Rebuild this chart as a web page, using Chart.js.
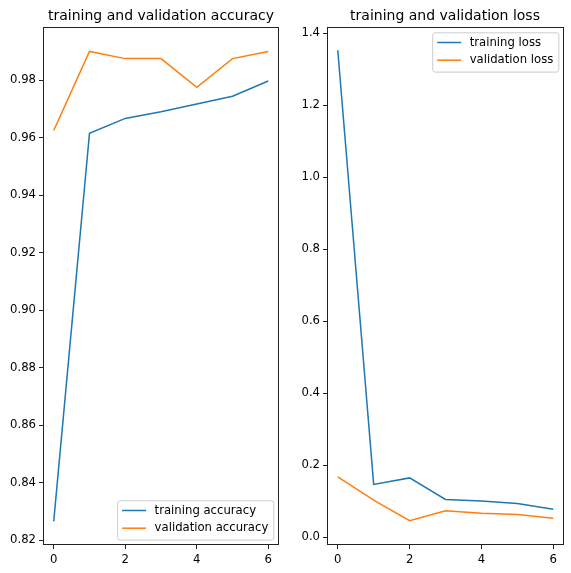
<!DOCTYPE html>
<html>
<head>
<meta charset="utf-8">
<script src="https://cdn.jsdelivr.net/npm/chart.js@4/dist/chart.umd.min.js"></script>
<style>
  html, body { margin: 0; padding: 0; background: #fff; overflow: hidden; width: 571px; height: 573px; }
  canvas { position: absolute; top: 0; }
  #accChart { left: 0; }
  #lossChart { left: 296px; }
</style>
</head>
<body>
<canvas id="accChart" width="322" height="573"></canvas>
<canvas id="lossChart" width="298" height="573"></canvas>
<script>
// Data
const epochs = [0, 1, 2, 3, 4, 5, 6];
const trainAcc = [0.8265, 0.9615, 0.9667, 0.9690, 0.9717, 0.9744, 0.9797];
const valAcc = [0.9625, 0.9900, 0.9875, 0.9875, 0.9775, 0.9875, 0.9900];
const trainLoss = [1.353, 0.147, 0.165, 0.105, 0.101, 0.094, 0.078];
const valLoss = [0.168, 0.103, 0.046, 0.074, 0.067, 0.063, 0.053];
const xTicks = [0, 2, 4, 6];
const accTicks = [0.82, 0.84, 0.86, 0.88, 0.90, 0.92, 0.94, 0.96, 0.98];
const lossTicks = [0.0, 0.2, 0.4, 0.6, 0.8, 1.0, 1.2, 1.4];

const BLUE = '#1f77b4';
const ORANGE = '#ff7f0e';
const FONT = '"DejaVu Sans", sans-serif';
const SMALL = 11.67;

const pts = (ys) => epochs.map((e, i) => ({ x: e, y: ys[i] }));

// Axes frame (all four spines)
const frame = {
  id: 'frame',
  afterDatasetsDraw(chart) {
    const a = chart.chartArea, ctx = chart.ctx;
    ctx.save();
    ctx.strokeStyle = '#222';
    ctx.lineWidth = 1;
    ctx.strokeRect(Math.round(a.left) + 0.5, Math.round(a.top) + 0.5,
      Math.round(a.right - a.left) - 1, Math.round(a.bottom - a.top) - 1);
    ctx.restore();
  }
};

// Legend drawn inside the axes, matplotlib style
const boxLegend = {
  id: 'boxLegend',
  afterDraw(chart, args, opts) {
    const ctx = chart.ctx, a = chart.chartArea;
    const sets = chart.data.datasets;
    ctx.save();
    ctx.font = SMALL + 'px ' + FONT;
    const tw = Math.max(...sets.map(d => ctx.measureText(d.label).width));
    const w = 5 + 24 + 8.5 + tw + 5;
    const rowH = 17.7;
    const h = 10 + rowH * (sets.length - 1) + 11.6;
    const left = a.right - 5.7 - w;
    const top = opts.corner === 'lr' ? a.bottom - 5.4 - h : a.top + 5.3;
    ctx.beginPath();
    ctx.roundRect(left + 0.5, top + 0.5, w, h, 2.5);
    ctx.fillStyle = 'rgba(255,255,255,0.8)';
    ctx.fill();
    ctx.strokeStyle = '#cccccc';
    ctx.lineWidth = 1;
    ctx.stroke();
    sets.forEach((d, i) => {
      const y = top + 10.2 + i * rowH;
      ctx.beginPath();
      ctx.moveTo(left + 5, y);
      ctx.lineTo(left + 29, y);
      ctx.strokeStyle = d.borderColor;
      ctx.lineWidth = 1.5;
      ctx.stroke();
      ctx.fillStyle = '#000';
      ctx.textBaseline = 'middle';
      ctx.fillText(d.label, left + 37.5, y);
    });
    ctx.restore();
  }
};

function makeChart(id, title, sets, yMin, yMax, yTicks, yDigits, yWidth, padRight, corner) {
  return new Chart(document.getElementById(id), {
    type: 'line',
    data: {
      datasets: sets.map(s => ({
        label: s.label,
        data: pts(s.values),
        borderColor: s.color,
        backgroundColor: s.color,
        borderWidth: 1.5,
        pointRadius: 0,
        tension: 0,
        fill: false
      }))
    },
    options: {
      responsive: false,
      animation: false,
      layout: { padding: 0 },
      plugins: {
        legend: { display: false },
        tooltip: { enabled: false },
        title: {
          display: true,
          text: title,
          color: '#000',
          font: { family: FONT, size: 14, weight: 'normal', lineHeight: 1.2 },
          padding: { top: 7.5, bottom: 2.7 }
        },
        boxLegend: { corner }
      },
      scales: {
        x: {
          type: 'linear',
          min: -0.3,
          max: 6.3,
          afterBuildTicks: (s) => { s.ticks = xTicks.map(v => ({ value: v })); },
          afterFit: (s) => { s.height = 28; },
          grid: { display: true, drawOnChartArea: false, tickLength: 4, color: '#222' },
          border: { display: false },
          ticks: { color: '#000', padding: 3.5, maxRotation: 0, font: { family: FONT, size: SMALL },
            callback: (v) => String(v) }
        },
        y: {
          min: yMin,
          max: yMax,
          afterBuildTicks: (s) => { s.ticks = yTicks.map(v => ({ value: v })); },
          afterFit: (s) => { s.width = yWidth; },
          grid: { display: true, drawOnChartArea: false, tickLength: 4, color: '#222' },
          border: { display: false },
          ticks: { color: '#000', padding: 3, font: { family: FONT, size: SMALL },
            callback: (v) => Number(v).toFixed(yDigits) }
        },
        // empty right axis: keeps the plot centred under the title
        yPad: {
          position: 'right',
          display: true,
          afterFit: (s) => { s.width = padRight; },
          grid: { display: false },
          border: { display: false },
          ticks: { display: false }
        }
      }
    },
    plugins: [frame, boxLegend]
  });
}

makeChart('accChart', 'training and validation accuracy', [
  { label: 'training accuracy', values: trainAcc, color: BLUE },
  { label: 'validation accuracy', values: valAcc, color: ORANGE }
], 0.8183, 0.9985, accTicks, 2, 43, 43, 'lr');

makeChart('lossChart', 'training and validation loss', [
  { label: 'training loss', values: trainLoss, color: BLUE },
  { label: 'validation loss', values: valLoss, color: ORANGE }
], -0.0214, 1.4175, lossTicks, 1, 31, 30, 'ur');
</script>
</body>
</html>
